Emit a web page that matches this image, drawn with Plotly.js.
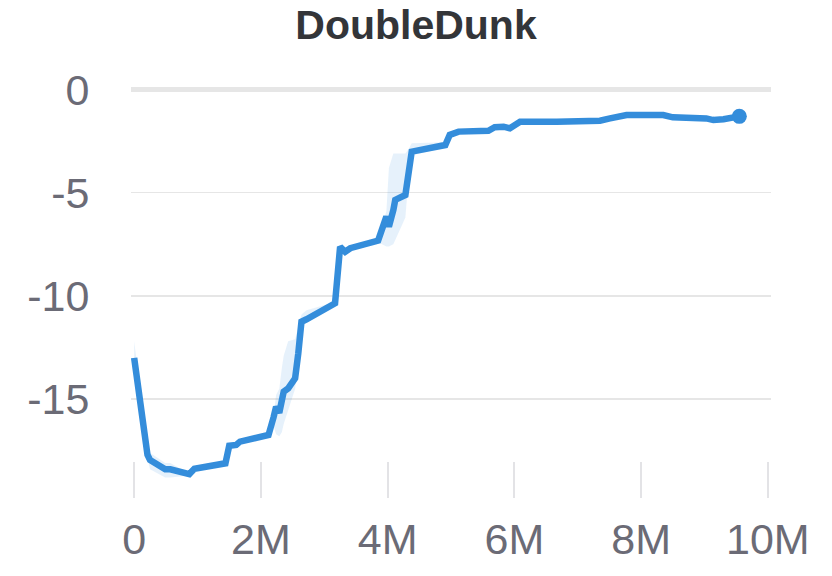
<!DOCTYPE html>
<html>
<head>
<meta charset="utf-8">
<script src="https://cdn.plot.ly/plotly-3.0.1.min.js"></script>
<style>
  html, body { margin: 0; padding: 0; background: #fff; }
  #chart { width: 832px; height: 576px; }
</style>
</head>
<body>
<div id="chart"></div>
<script>
// training steps (millions) and episode return
var steps = [0, 0.21, 0.25, 0.49, 0.57, 0.80, 0.87, 0.95, 1.44, 1.50, 1.61, 1.67, 2.12, 2.20, 2.24, 2.29, 2.33, 2.36, 2.43, 2.54,
  2.59, 2.64, 2.72, 3.17, 3.25, 3.33, 3.41, 3.85, 3.98, 4.02, 4.09, 4.12, 4.28, 4.33, 4.38, 4.91, 4.98, 5.12, 5.59, 5.69,
  5.83, 5.93, 6.09, 6.67, 7.35, 7.51, 7.77, 8.35, 8.50, 9.03, 9.14, 9.30, 9.55];
var meanReturn = [-13.0, -17.7, -17.95, -18.4, -18.4, -18.63, -18.63, -18.37, -18.11, -17.26, -17.22, -17.06, -16.74, -15.88, -15.37, -15.66, -15.2, -14.64, -14.48, -13.99,
  -12.78, -11.25, -11.13, -10.36, -7.62, -7.86, -7.69, -7.32, -6.16, -6.65, -5.84, -5.35, -5.11, -3.90, -3.01, -2.69, -2.2, -2.04, -2.0, -1.83,
  -1.80, -1.88, -1.56, -1.56, -1.51, -1.40, -1.24, -1.24, -1.35, -1.40, -1.48, -1.44, -1.30];
var upperReturn = [-12.2, -17.3, -17.6, -18.1, -18.1, -18.5, -18.55, -18.3, -18.05, -17.2, -17.12, -16.96, -16.65, -15.8, -14.8, -14.5, -13.5, -12.9, -12.2, -12.1,
  -11.5, -10.9, -10.7, -10.3, -7.55, -7.78, -7.6, -7.25, -5.9, -3.8, -3.1, -3.1, -3.1, -2.9, -2.6, -2.55, -2.12, -1.96, -1.92, -1.75,
  -1.72, -1.8, -1.48, -1.48, -1.43, -1.32, -1.16, -1.16, -1.27, -1.32, -1.4, -1.36, -1.22];
var lowerReturn = [-13.2, -17.9, -18.4, -18.8, -18.8, -18.7, -18.7, -18.45, -18.2, -17.35, -17.32, -17.16, -16.85, -16.3, -16.7, -16.8, -16.6, -16.2, -15.5, -14.5,
  -13.2, -11.5, -11.3, -10.45, -7.7, -7.94, -7.78, -7.4, -7.6, -7.6, -7.5, -7.3, -6.2, -4.3, -3.2, -2.8, -2.28, -2.12, -2.08, -1.91,
  -1.88, -1.96, -1.64, -1.64, -1.59, -1.48, -1.32, -1.32, -1.43, -1.48, -1.56, -1.52, -1.38];

var xTicks = [0, 2, 4, 6, 8, 10];
var xTickText = ['0', '2M', '4M', '6M', '8M', '10M'];
var yTicks = [0, -5, -10, -15];

var blue = '#348ddb';
var grey = '#6b6b76';
var stepX = steps.map(function (s) { return s * 1e6; });
var lastI = steps.length - 1;

var data = [
  { x: stepX, y: lowerReturn, mode: 'lines', line: { width: 0 }, hoverinfo: 'skip' },
  { x: stepX, y: upperReturn, mode: 'lines', line: { width: 0 }, fill: 'tonexty',
    fillcolor: 'rgba(52,141,219,0.12)', hoverinfo: 'skip' },
  { x: stepX, y: meanReturn, mode: 'lines', line: { color: blue, width: 6.5 } },
  { x: [stepX[lastI]], y: [meanReturn[lastI]], mode: 'markers', marker: { color: blue, size: 15 } }
];

var layout = {
  width: 832,
  height: 576,
  margin: { l: 131, r: 61, t: 86, b: 78 },
  paper_bgcolor: '#fff',
  plot_bgcolor: '#fff',
  showlegend: false,
  hovermode: false,
  font: { family: 'Liberation Sans, Arial, sans-serif' },
  title: {
    text: '<b>DoubleDunk</b>',
    font: { size: 41, color: '#333539' },
    xref: 'container', x: 0.5, xanchor: 'center',
    yref: 'container', y: 0.957, yanchor: 'middle'
  },
  xaxis: {
    range: [-0.05e6, 10.05e6],
    tickvals: xTicks.map(function (t) { return t * 1e6; }),
    ticktext: xTickText,
    showgrid: false,
    zeroline: false,
    showline: false,
    ticks: 'inside',
    ticklen: 36,
    tickwidth: 2,
    tickcolor: '#e3e3e6',
    ticklabelstandoff: 12,
    tickfont: { size: 43, color: grey }
  },
  yaxis: {
    range: [-19.79, 0.17],
    tickvals: yTicks,
    ticktext: yTicks.map(String),
    showgrid: true,
    gridcolor: '#e6e6e6',
    gridwidth: 1.5,
    zeroline: true,
    zerolinecolor: '#e6e6e6',
    zerolinewidth: 5,
    showline: false,
    ticks: 'outside',
    ticklen: 32,
    tickcolor: 'rgba(0,0,0,0)',
    tickfont: { size: 43, color: grey }
  }
};

Plotly.newPlot('chart', data, layout, { displayModeBar: false, staticPlot: true });
</script>
</body>
</html>
